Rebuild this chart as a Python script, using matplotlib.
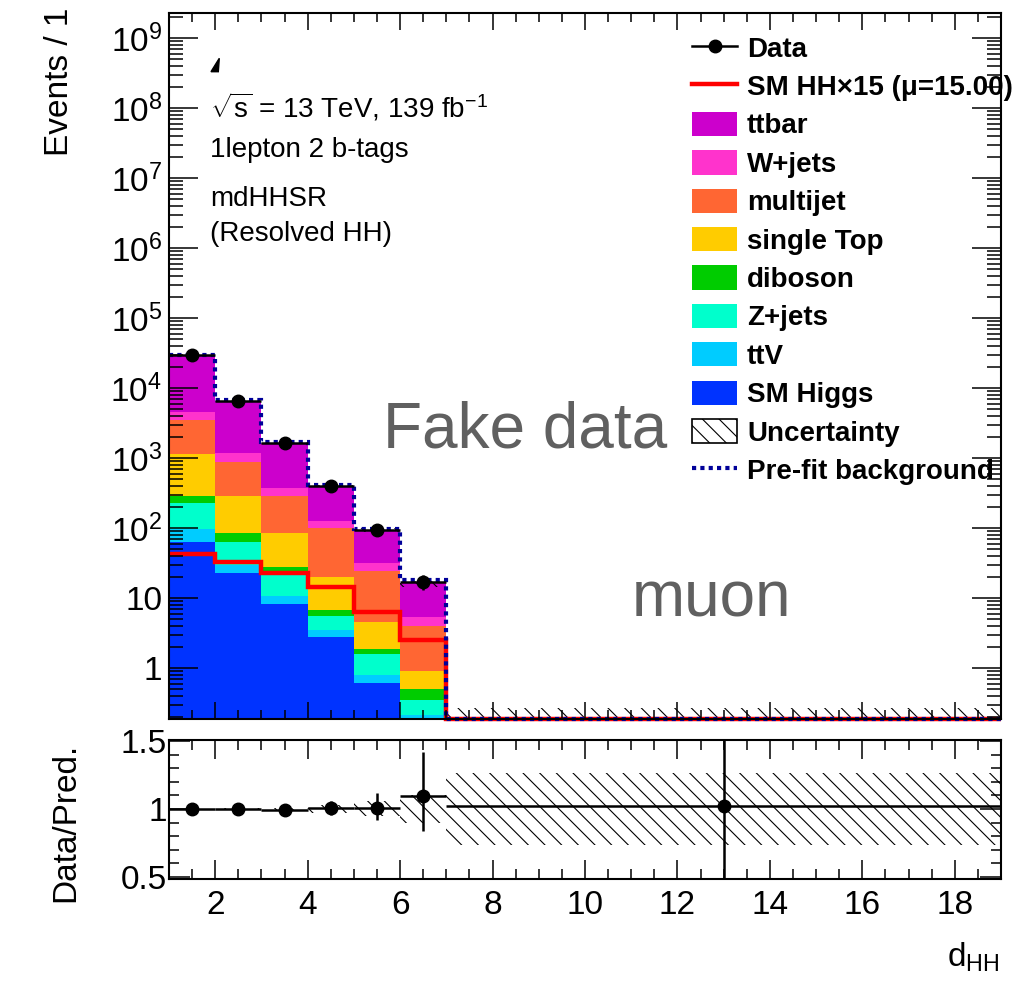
import numpy as np
import matplotlib
matplotlib.use('Agg')
import matplotlib.pyplot as plt
from matplotlib.patches import Patch, Polygon
from matplotlib.lines import Line2D
from matplotlib.ticker import LogLocator, MultipleLocator, FuncFormatter, NullFormatter

plt.rcParams['font.family'] = ['Liberation Sans', 'DejaVu Sans']
plt.rcParams['mathtext.fontset'] = 'custom'
plt.rcParams['mathtext.rm'] = 'Liberation Sans'
plt.rcParams['mathtext.it'] = 'Liberation Sans:italic'
plt.rcParams['mathtext.bf'] = 'Liberation Sans:bold'
plt.rcParams['hatch.linewidth'] = 0.8

# binning in d_HH
edges = np.array([1, 2, 3, 4, 5, 6, 7, 19])

# background stack, bottom to top
samples = ['SM Higgs', 'ttV', 'Z+jets', 'diboson', 'single Top', 'multijet', 'W+jets', 'ttbar']
colors = ['#0033ff', '#00ccff', '#00ffcc', '#00cc00', '#ffcc00', '#ff6633', '#ff33cc', '#cc00cc']
sm_higgs = [63, 23, 8.1, 2.74, 0.62, 0.05, 0]
ttv = [34, 6.6, 2.6, 0.76, 0.17, 0.16, 0]
zjets = [131, 33.4, 13.8, 2.1, 0.79, 0.14, 0]
diboson = [59, 22.7, 2.9, 1.1, 0.29, 0.146, 0]
single_top = [853, 204, 56.6, 13.0, 2.67, 0.42, 0]
multijet = [2350, 597, 206, 79.3, 19.8, 3.06, 0]
wjets = [1050, 283, 87, 27, 7.0, 1.42, 0]
ttbar = [24060, 5410, 1243, 276, 62.3, 10.8, 0]

signal = [42.5, 33, 22.5, 14.5, 6.4, 2.5, 0]          # SM HH x 15
prefit = [29500, 6650, 1680, 415, 98, 18, 0]
data = [29600, 6600, 1620, 402, 94, 17.1, 0]
bkg_unc = [86, 26, 13, 8, 5.1, 1.6, 0.27]

# ratio panel
ratio = [1.0, 1.0, 0.995, 1.005, 1.01, 1.095, 1.025]
ratio_up = [0.006, 0.012, 0.025, 0.05, 0.11, 0.32, 0.6]
ratio_dn = [0.006, 0.012, 0.025, 0.05, 0.09, 0.26, 0.6]
ratio_unc = [0.003, 0.004, 0.01, 0.03, 0.055, 0.1, 0.265]

ymin, ymax = 0.187, 2.28e9
floor = 1e-3
centers = (edges[:-1] + edges[1:]) / 2
halfw = np.diff(edges) / 2

fig = plt.figure(figsize=(10.25, 9.84), dpi=100)
ax = fig.add_axes([0.1649, 0.2693, 0.8117, 0.7175])
rax = fig.add_axes([0.1649, 0.1067, 0.8117, 0.1413])

stack = np.array([sm_higgs, ttv, zjets, diboson, single_top, multijet, wjets, ttbar])
cum = np.cumsum(stack, axis=0)
lower = np.full(len(edges) - 1, floor)
for top, c in zip(cum, colors):
    top_c = np.maximum(top, floor)
    ax.stairs(top_c, edges, baseline=lower, fill=True, color=c, lw=0)
    lower = top_c
total = cum[-1]

# uncertainty band
up = total + np.array(bkg_unc)
lo = np.maximum(total - np.array(bkg_unc), floor)
ax.stairs(up, edges, baseline=lo, fill=True, facecolor='none', edgecolor='k',
          hatch='\\\\', lw=0)

ax.stairs(np.maximum(signal, ymin), edges, baseline=None, color='red', lw=3.2, clip_on=False)
ax.stairs(np.maximum(prefit, ymin), edges, baseline=None, color='#000099', lw=3,
          ls=(0, (1, 1)), clip_on=False)

data = np.array(data, dtype=float)
m = data > 0
ax.errorbar(centers[m], data[m], xerr=halfw[m], yerr=np.sqrt(data[m]), fmt='o', color='k',
            ms=9, lw=1.8, capsize=0, zorder=5)

ax.set_xlim(1, 19)
ax.set_yscale('log')
ax.set_ylim(ymin, ymax)
ax.yaxis.set_major_locator(LogLocator(base=10, numticks=30))
ax.yaxis.set_minor_locator(LogLocator(base=10, subs=np.arange(2, 10), numticks=30))
ax.yaxis.set_minor_formatter(NullFormatter())


def logfmt(v, pos):
    if abs(v - 1) < 1e-6:
        return '1'
    if abs(v - 10) < 1e-6:
        return '10'
    return r'$10^{%d}$' % round(np.log10(v))


ax.yaxis.set_major_formatter(FuncFormatter(logfmt))
ax.xaxis.set_major_locator(MultipleLocator(2))
ax.xaxis.set_minor_locator(MultipleLocator(0.5))
ax.tick_params(which='both', direction='in', top=True, right=True, labelbottom=False, width=1.1)
ax.tick_params(axis='y', which='major', length=21, labelsize=24, pad=5)
ax.tick_params(axis='y', which='minor', length=10)
ax.tick_params(axis='x', which='major', length=12.5)
ax.tick_params(axis='x', which='minor', length=6.5)

# legend
handles = [Line2D([], [], color='k', marker='o', ms=9, lw=1.8),
           Line2D([], [], color='red', lw=3.2)]
handles += [Patch(facecolor=c, edgecolor='none') for c in reversed(colors)]
handles += [Patch(facecolor='white', edgecolor='k', hatch='\\\\', lw=1.2),
            Line2D([], [], color='#000099', lw=3, ls=(0, (1, 1)))]
labels = ['Data', 'SM HH×15 (μ=15.00)'] + list(reversed(samples)) + ['Uncertainty', 'Pre-fit background']
ax.legend(handles, labels, loc='upper left', bbox_to_anchor=(0.6286, 0.9688), frameon=False,
          prop={'weight': 'bold', 'size': 20}, handlelength=1.62, handleheight=0.97,
          handletextpad=0.36, labelspacing=0.385, borderpad=0, borderaxespad=0)

ax.text(0.049, 0.8513, r'$\sqrt{\mathregular{s}}$ = 13 TeV, 139 fb$^{-1}$', transform=ax.transAxes,
        fontsize=20, va='baseline')
ax.text(0.049, 0.796, '1lepton 2 b-tags', transform=ax.transAxes, fontsize=20, va='baseline')
ax.text(0.049, 0.7266, 'mdHHSR', transform=ax.transAxes, fontsize=20, va='baseline')
ax.text(0.049, 0.677, '(Resolved HH)', transform=ax.transAxes, fontsize=20, va='baseline')
ax.text(0.257, 0.3839, 'Fake data', transform=ax.transAxes, fontsize=46, color='#606060',
        va='baseline')
ax.text(0.5565, 0.1445, 'muon', transform=ax.transAxes, fontsize=46, color='#606060',
        va='baseline')

# clipped piece of the experiment label
fig.patches.append(Polygon([(211 / 1025, 1 - 71.7 / 984), (218.3 / 1025, 1 - 71.7 / 984),
                            (219.3 / 1025, 1 - 58.3 / 984)], closed=True, color='k',
                           transform=fig.transFigure, figure=fig))

# ratio panel
rax.stairs(1 + np.array(ratio_unc), edges, baseline=1 - np.array(ratio_unc), fill=True,
           facecolor='none', edgecolor='k', hatch='\\\\', lw=0)
rax.errorbar(centers, ratio, xerr=halfw, yerr=[ratio_dn, ratio_up], fmt='o', color='k',
             ms=9, lw=1.8, capsize=0)
rax.set_xlim(1, 19)
rax.set_ylim(0.485, 1.507)
rax.yaxis.set_major_locator(MultipleLocator(0.5))
rax.yaxis.set_minor_locator(MultipleLocator(0.1))
rax.yaxis.set_major_formatter(FuncFormatter(lambda v, p: '%g' % v))
rax.xaxis.set_major_locator(MultipleLocator(2))
rax.xaxis.set_minor_locator(MultipleLocator(0.5))
rax.tick_params(which='both', direction='in', top=True, right=True, width=1.1, labelsize=24)
rax.tick_params(axis='y', which='major', length=15, pad=1.5)
rax.tick_params(axis='y', which='minor', length=7.5)
rax.tick_params(axis='x', which='major', length=14, pad=8)
rax.tick_params(axis='x', which='minor', length=7)

for a in (ax, rax):
    for s in a.spines.values():
        s.set_linewidth(1.5)

fig.text(60 / 1025, 1 - 8 / 984, 'Events / 1', rotation=90, ha='center', va='top', fontsize=24)
fig.text(66 / 1025, 1 - 822 / 984, 'Data/Pred.', rotation=90, ha='center', va='center', fontsize=24)
fig.text(1000 / 1025, 1 - 967 / 984, r'd$_{\mathregular{HH}}$', ha='right', va='baseline', fontsize=24)

fig.savefig('out.png', dpi=100)
